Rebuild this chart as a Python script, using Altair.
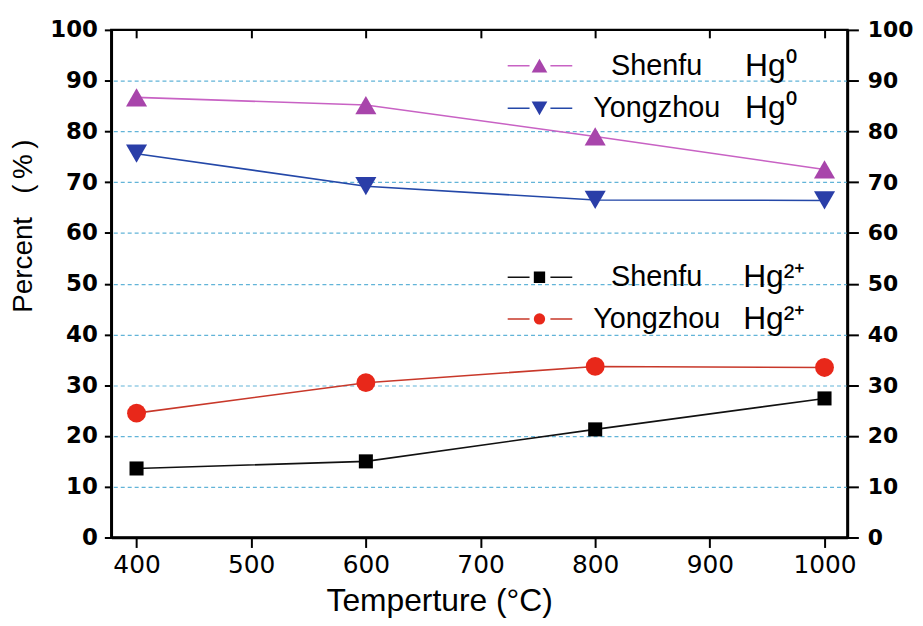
import altair as alt
import pandas as pd

# ---- data ----
temps = [400, 600, 800, 1000]
shenfu_hg0 = [86.7, 85.2, 79.0, 72.5]
yongzhou_hg0 = [75.6, 69.2, 66.5, 66.4]
shenfu_hg2 = [13.6, 15.0, 21.3, 27.4]
yongzhou_hg2 = [24.5, 30.5, 33.7, 33.5]
coals = ["Shenfu", "Yongzhou"]
x_ticks = [400, 500, 600, 700, 800, 900, 1000]
y_ticks = list(range(0, 101, 10))
grid_ticks = list(range(10, 100, 10))

rows = []
for coal, species, vals in [
    ("Shenfu", "Hg0", shenfu_hg0),
    ("Yongzhou", "Hg0", yongzhou_hg0),
    ("Shenfu", "Hg2", shenfu_hg2),
    ("Yongzhou", "Hg2", yongzhou_hg2),
]:
    for t, v in zip(temps, vals):
        rows.append({"T": t, "value": v, "coal": coal, "species": species})
df = pd.DataFrame(rows)

FONT = "Liberation Sans"
NUM = "DejaVu Sans"

xs = alt.Scale(domain=[378, 1020], nice=False, zero=False)
ys = alt.Scale(domain=[0, 100], nice=False, zero=False)

x_bottom = alt.Axis(values=x_ticks, format="d", title="Temperture (\u00b0C)", labelFont=NUM, labelFontSize=25,
                    labelColor="black", labelPadding=5, tickSize=10, tickWidth=2, tickColor="black",
                    domainColor="black", domainWidth=2.5, grid=False, labelFlush=False, labelOverlap=False,
                    titleFont=FONT, titleFontSize=32, titleFontWeight="normal", titleColor="black",
                    titleX=330, titleY=73, titleAlign="center", titleBaseline="alphabetic")
y_left = alt.Axis(values=y_ticks, title="Percent\u00a0\u00a0\u00a0(\u2009%\u2009)", labelFont=NUM,
                  labelFontWeight="bold", labelFontSize=23, labelColor="black", labelPadding=7, tickSize=7,
                  tickWidth=2, tickColor="black", domainColor="black", domainWidth=2.5, grid=False,
                  labelOverlap=False, titleFont=FONT, titleFontSize=28, titleFontWeight="normal",
                  titleColor="black", titleX=-88, titleY=197, titleAngle=270, titleAlign="center",
                  titleBaseline="middle")
y_grid = alt.Axis(values=grid_ticks, title=None, labels=False, ticks=False, domain=False, grid=True,
                  gridColor="#62b4d8", gridDash=[4, 3], gridWidth=1.2)
y_right = alt.Axis(orient="right", values=y_ticks, title=None, labelFont=NUM, labelFontWeight="bold",
                   labelFontSize=22, labelColor="black", labelPadding=9, tickSize=11, tickWidth=2,
                   tickColor="black", domainColor="black", domainWidth=2.5, grid=False, labelOverlap=False)
x_top = alt.Axis(orient="top", values=x_ticks, title=None, labels=False, tickSize=8, tickWidth=2,
                 tickColor="black", domain=False, grid=False, offset=-8)

hg0 = df[df.species == "Hg0"]
hg2 = df[df.species == "Hg2"]

line_leg = dict(orient="none", title=None, symbolType="stroke", symbolSize=4225, symbolStrokeWidth=1.5,
                symbolDash=[22, 21], labelFont=FONT, labelFontSize=29, labelColor="black",
                labelAlign="center", labelOffset=84, labelLimit=400, padding=0, rowPadding=0)
pt_leg = dict(orient="none", title=None, labelFont=FONT, labelFontSize=32, labelColor="black",
              labelLimit=400, padding=0, rowPadding=0, symbolStrokeWidth=0)

l1 = alt.Chart(hg0).mark_line(strokeWidth=1.6).encode(
    x=alt.X("T:Q", scale=xs, axis=x_bottom),
    y=alt.Y("value:Q", scale=ys, axis=y_left),
    color=alt.Color("coal:N", scale=alt.Scale(domain=coals, range=["#c862c4", "#2448a8"]),
                    legend=alt.Legend(legendX=398, legendY=14.5, clipHeight=43, **line_leg)),
)
l2 = alt.Chart(hg0).mark_point(filled=True, size=450, opacity=1).encode(
    x=alt.X("T:Q", scale=xs, axis=None),
    y=alt.Y("value:Q", scale=ys, axis=y_grid),
    color=alt.Color("coal:N", scale=alt.Scale(domain=coals, range=["#a845ab", "#2a3ea8"]),
                    legend=alt.Legend(legendX=415, legendY=14.5, clipHeight=43, symbolSize=250,
                                      labelOffset=191, labelExpr="'Hg\u2070'", **pt_leg)),
    shape=alt.Shape("coal:N", scale=alt.Scale(domain=coals, range=["triangle-up", "triangle-down"])),
)
l3 = alt.Chart(hg2).mark_line(strokeWidth=1.6).encode(
    x=alt.X("T:Q", scale=xs, axis=x_top),
    y=alt.Y("value:Q", scale=ys, axis=y_right),
    color=alt.Color("coal:N", scale=alt.Scale(domain=coals, range=["#111111", "#c8382a"]),
                    legend=alt.Legend(legendX=398, legendY=228, clipHeight=42, **line_leg)),
)
l4 = alt.Chart(hg2).mark_point(filled=True, opacity=1).encode(
    x=alt.X("T:Q", scale=xs, axis=None),
    y=alt.Y("value:Q", scale=ys, axis=None),
    color=alt.Color("coal:N", scale=alt.Scale(domain=coals, range=["#000000", "#e8281a"]),
                    legend=alt.Legend(legendX=415, legendY=228, clipHeight=42, symbolSize=130,
                                      labelOffset=189, labelExpr="'Hg\u00b2\u207a'", **pt_leg)),
    shape=alt.Shape("coal:N", scale=alt.Scale(domain=coals, range=["square", "circle"])),
    size=alt.condition(alt.datum.coal == "Shenfu", alt.value(200), alt.value(360)),
)

chart = alt.layer(l1, l2, l3, l4).resolve_scale(
    color="independent", shape="independent"
).resolve_axis(
    x="independent", y="independent"
).properties(
    width=741, height=511,
    autosize=alt.AutoSizeParams(type="none"),
    padding={"left": 104, "top": 20, "right": 68, "bottom": 79},
    background="white",
).configure_view(stroke="black", strokeWidth=2.5)

chart.save("out.html", embed_options={"renderer": "svg", "actions": False})
